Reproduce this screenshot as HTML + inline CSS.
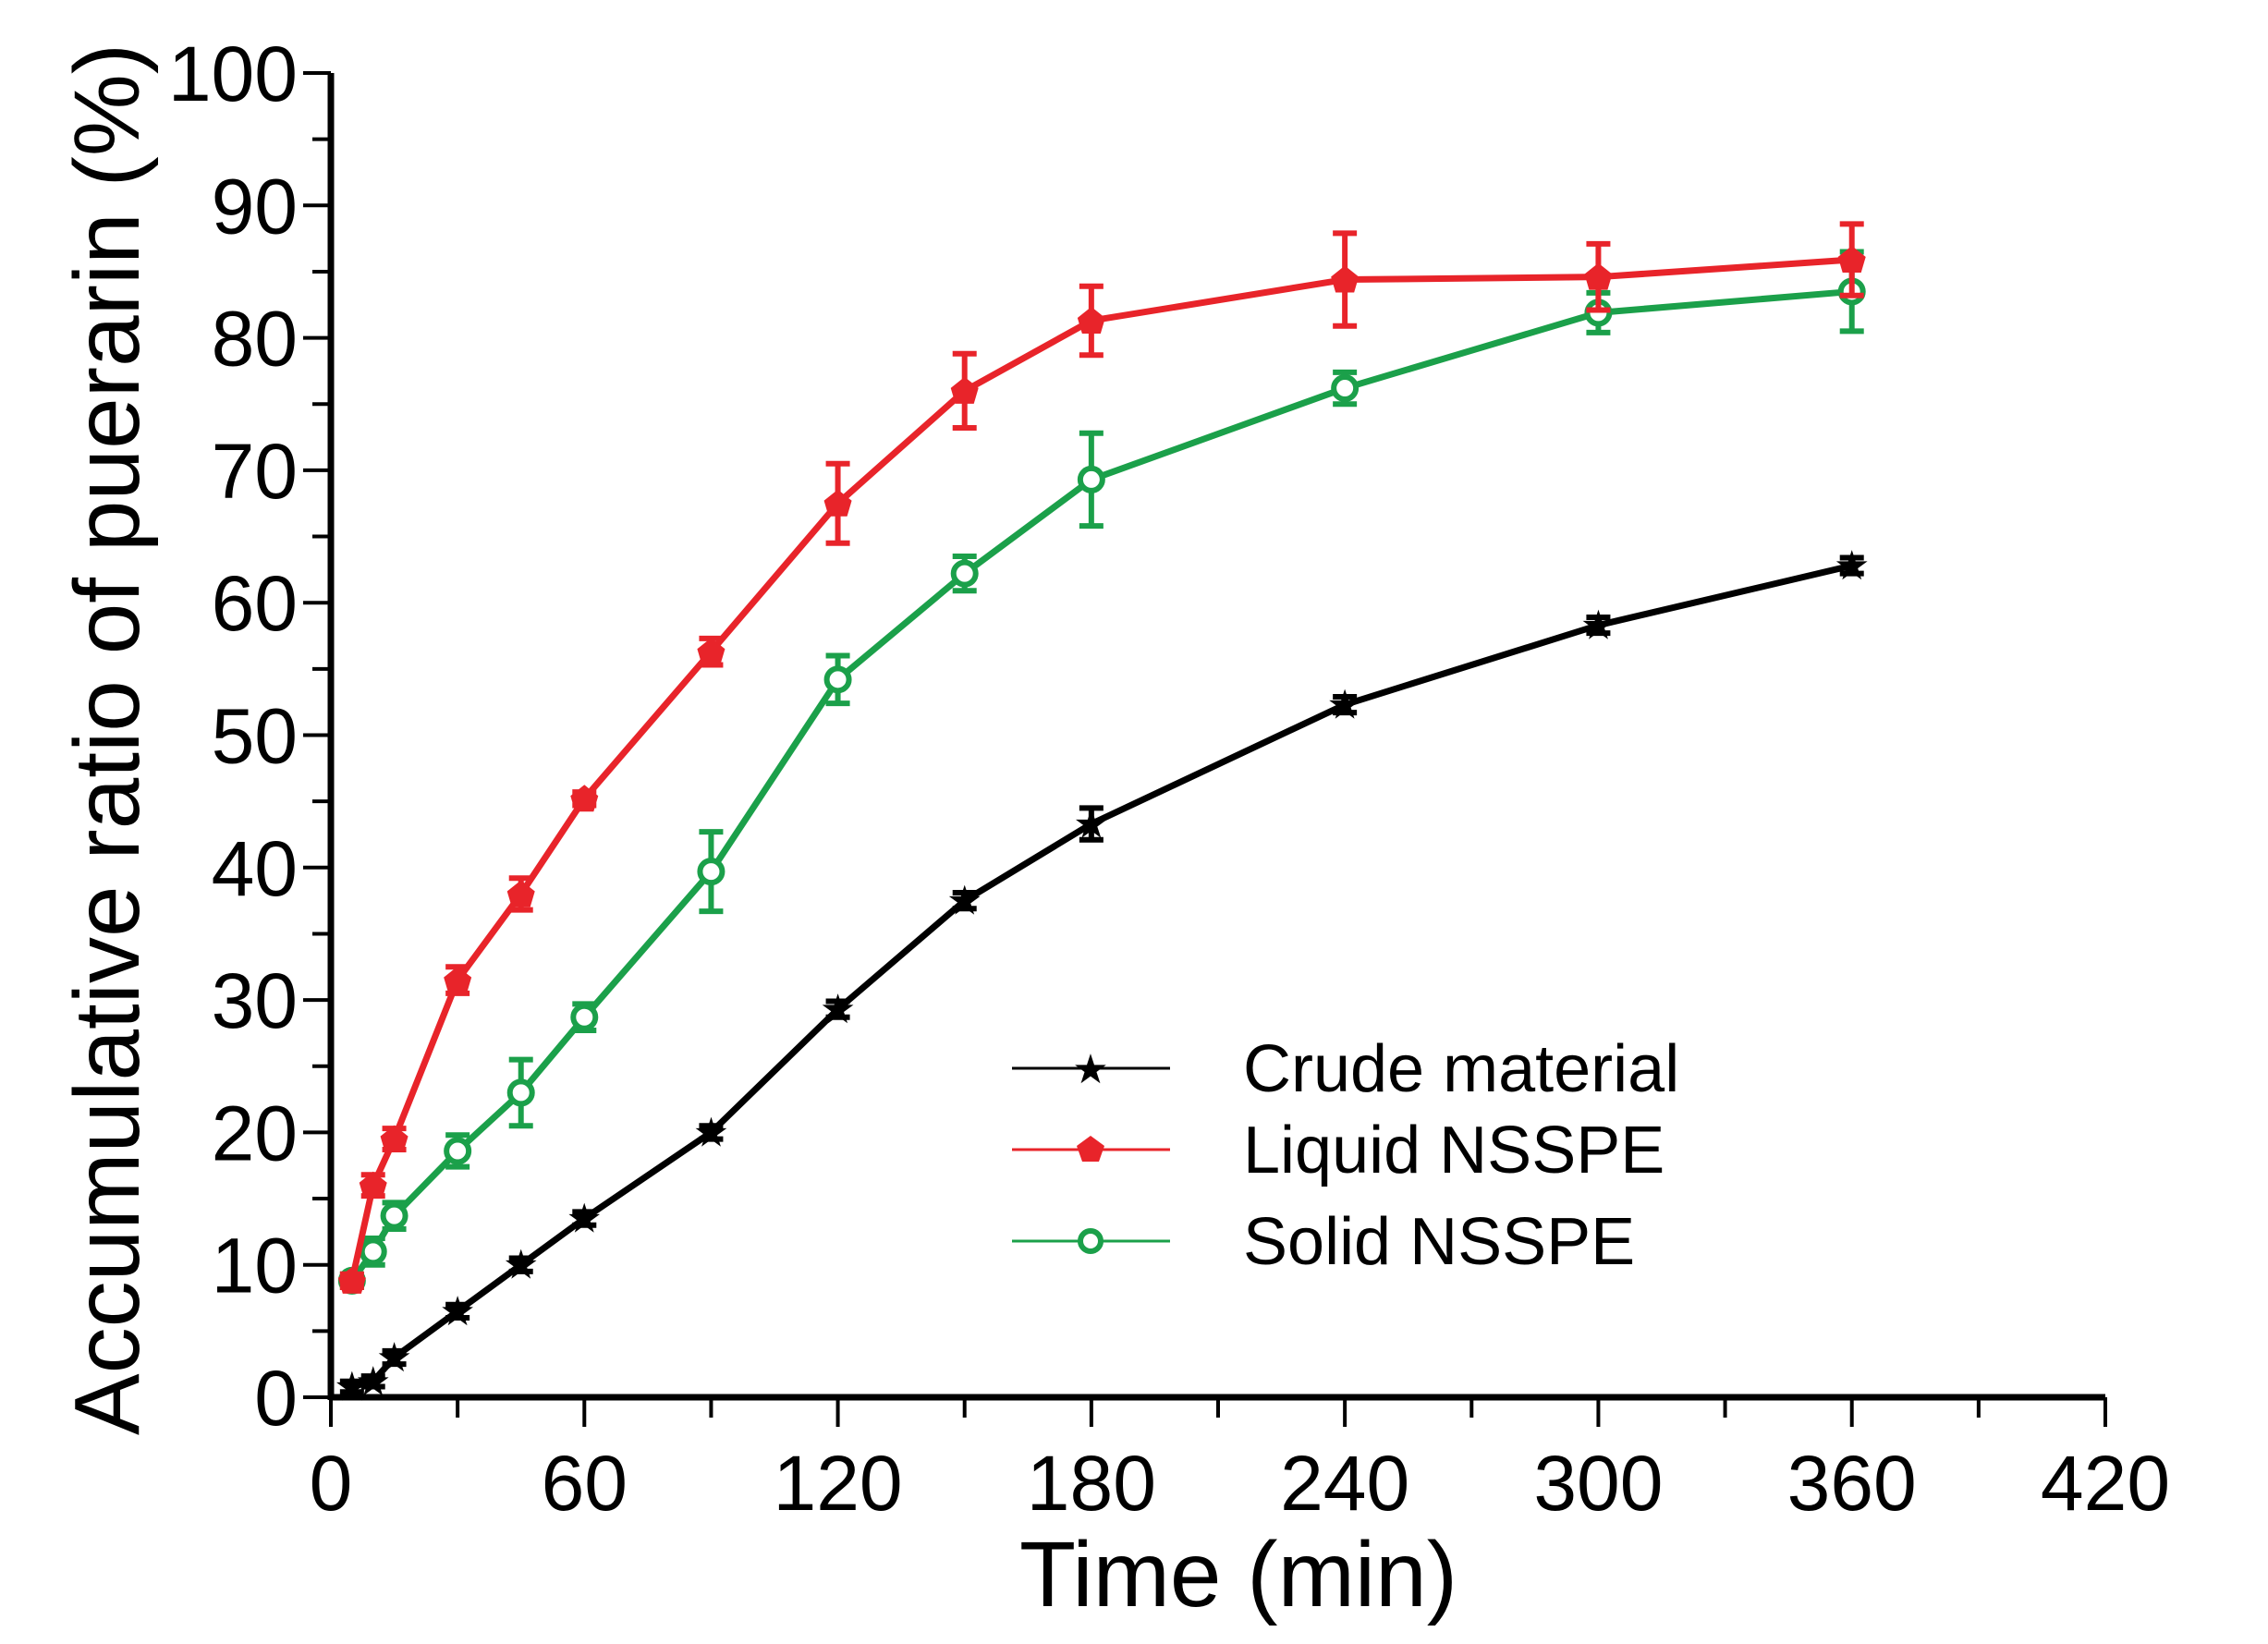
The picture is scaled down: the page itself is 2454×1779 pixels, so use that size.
<!DOCTYPE html>
<html><head><meta charset="utf-8"><style>body{margin:0;background:#fff}svg{display:block}</style></head>
<body>
<svg id="c" width="2454" height="1779" viewBox="0 0 2454 1779" xmlns="http://www.w3.org/2000/svg" font-family="Liberation Sans, sans-serif">
<text x="1340" y="1738" font-size="100" text-anchor="middle">Time (min)</text>
<text transform="translate(150,800) rotate(-90)" font-size="100" text-anchor="middle">Accumulative ratio of puerarin (%)</text>
<g id="axes"></g><g id="series"></g>
<g transform="translate(-13,-14)">
<line x1="1108" y1="1170" x2="1279" y2="1170" stroke="#000" stroke-width="3"/>
<text x="1193" y="1186" font-size="44" text-anchor="middle">★</text>
<text x="1358" y="1195" font-size="72">Crude material</text>
<line x1="1108" y1="1258" x2="1279" y2="1258" stroke="#e8242a" stroke-width="3"/>
<polygon points="1193,1243 1208,1254 1202,1271 1184,1271 1178,1254" fill="#e8242a"/>
<text x="1358" y="1283" font-size="72">Liquid NSSPE</text>
<line x1="1108" y1="1357" x2="1279" y2="1357" stroke="#1ba04a" stroke-width="3"/>
<circle cx="1193" cy="1357" r="11" fill="#fff" stroke="#1ba04a" stroke-width="6"/>
<text x="1358" y="1382" font-size="72">Solid NSSPE</text>
</g>
</svg>
<script>
const times=[5,10,15,30,45,60,90,120,150,180,240,300,360];
const crude=[0.8,1.2,3,6.5,10,13.5,20,29.3,37.5,43.3,52.3,58.3,62.8];
const crudeErr=[0.4,0.4,0.5,0.5,0.5,0.5,0.5,0.6,0.6,1.2,0.6,0.6,0.6];
const liquid=[8.8,16,19.5,31.5,38,45.2,56.3,67.5,76,81.3,84.4,84.6,85.9];
const liquidErr=[0.5,0.8,0.8,1,1.2,0.5,1,3,2.8,2.6,3.5,2.5,2.7];
const solid=[8.8,11,13.7,18.6,23,28.7,39.7,54.2,62.2,69.3,76.2,81.9,83.5];
const solidErr=[0.5,1,1,1.2,2.5,1,3,1.8,1.3,3.5,1.2,1.5,3];
const xTicks=[0,60,120,180,240,300,360,420];
const yTicks=[0,10,20,30,40,50,60,70,80,90,100];
const NS='http://www.w3.org/2000/svg';
const X=v=>358+v*(2278-358)/420, Y=v=>1512-v*(1512-79)/100;
function mk(t,a,p){const e=document.createElementNS(NS,t);for(const k in a)e.setAttribute(k,a[k]);p.appendChild(e);return e;}
const ax=document.getElementById('axes');
const xl=mk('line',{x1:X(0),y1:Y(0),x2:X(420),y2:Y(0),stroke:'#000','stroke-width':7},ax);


const yl=mk('line',{x1:X(0),y1:Y(0)+3,x2:X(0),y2:Y(100),stroke:'#000','stroke-width':7},ax);


for(let v=0;v<=420;v+=30){mk('line',{x1:X(v),y1:Y(0),x2:X(v),y2:Y(0)+(v%60?22:32),stroke:'#000','stroke-width':4},ax);}
for(let v=0;v<=100;v+=5){mk('line',{x1:X(0),y1:Y(v),x2:X(0)-(v%10?20:30),y2:Y(v),stroke:'#000','stroke-width':4},ax);}
xTicks.forEach(v=>{const t=mk('text',{x:X(v),y:Y(0)+122,'font-size':84,'text-anchor':'middle'},ax);t.textContent=v;

});
yTicks.forEach(v=>{const t=mk('text',{x:X(0)-36,y:Y(v)+30,'font-size':84,'text-anchor':'end'},ax);t.textContent=v;

});
const sg=document.getElementById('series');
function series(vals,errs,color,name,marker){
 const g=mk('g',{},sg);
 
 
 mk('polyline',{points:times.map((t,i)=>X(t)+','+Y(vals[i])).join(' '),fill:'none',stroke:color,'stroke-width':7,'stroke-linejoin':'round'},g);
 times.forEach((t,i)=>{const x=X(t),y1=Y(vals[i]+errs[i]),y2=Y(vals[i]-errs[i]);
  mk('path',{d:`M${x},${y1}V${y2}M${x-13},${y1}H${x+13}M${x-13},${y2}H${x+13}`,stroke:color,'stroke-width':6,fill:'none'},g);
  const y=Y(vals[i]);
  if(marker==='circle'){mk('circle',{cx:x,cy:y,r:12,fill:'#fff',stroke:color,'stroke-width':6},g);}
  else if(marker==='pent'){mk('polygon',{points:`${x},${y-15} ${x+15},${y-3} ${x+10},${y+14} ${x-10},${y+14} ${x-15},${y-3}`,fill:color},g);}
  else{const s=mk('text',{x:x,y:y+15,'font-size':44,'text-anchor':'middle',fill:color},g);s.textContent='★';}
 });
}
series(crude,crudeErr,'#000','series-crude','star');
series(solid,solidErr,'#1ba04a','series-solid','circle');
series(liquid,liquidErr,'#e8242a','series-liquid','pent');
</script>
</body></html>
